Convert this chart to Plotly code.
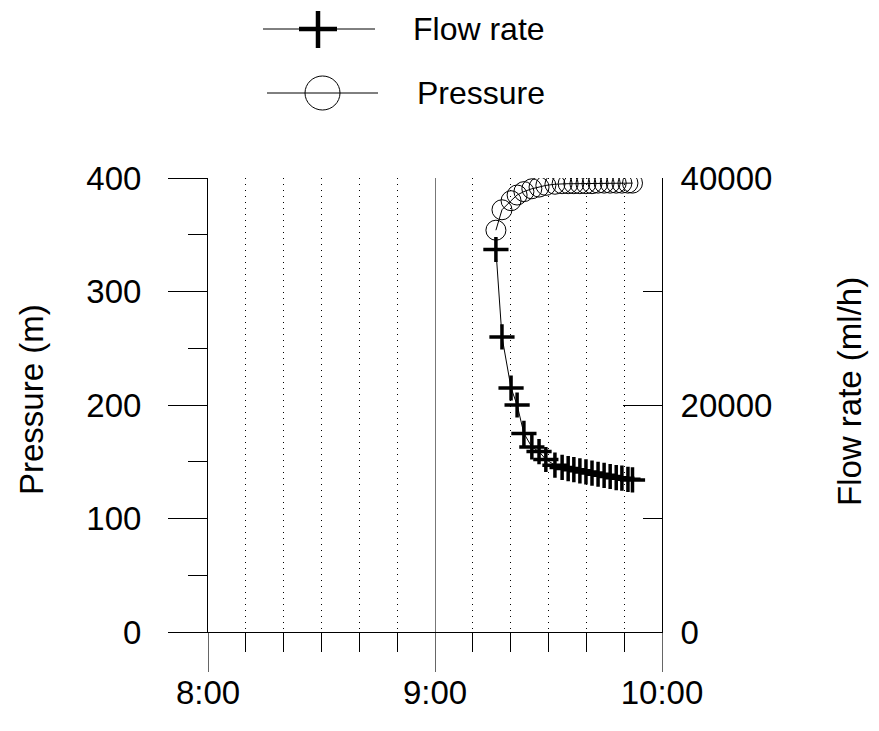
import plotly.graph_objects as go

# ---- data ----
times = [
    "2024-01-01 09:16:06", "2024-01-01 09:17:42", "2024-01-01 09:20:06", "2024-01-01 09:21:42",
    "2024-01-01 09:23:30", "2024-01-01 09:25:36", "2024-01-01 09:27:30", "2024-01-01 09:29:18",
    "2024-01-01 09:31:42", "2024-01-01 09:33:36", "2024-01-01 09:35:12", "2024-01-01 09:36:42",
    "2024-01-01 09:38:18", "2024-01-01 09:39:54", "2024-01-01 09:41:30", "2024-01-01 09:43:06",
    "2024-01-01 09:44:42", "2024-01-01 09:46:18", "2024-01-01 09:47:54", "2024-01-01 09:49:24",
    "2024-01-01 09:51:00", "2024-01-01 09:52:12",
]
pressure = [354, 372, 380, 385, 388, 390.5, 392, 393.5, 394.5, 395, 395, 395,
            395, 395, 395, 395.5, 395.5, 395.5, 395.5, 395.5, 395.5, 395.5]
flow = [33700, 26000, 21500, 20000, 17500, 16300, 15900, 15200, 14700, 14500, 14400, 14300,
        14200, 14100, 14000, 13900, 13800, 13700, 13600, 13550, 13450, 13400]
x_range = ["2024-01-01 08:00:00", "2024-01-01 10:00:00"]
pressure_range = [0, 400]
flow_range = [0, 40000]

FONT = "Liberation Sans, Arial, sans-serif"

# the page body has an 8px margin; work in page pixels and convert
OFF = 8
FIG_W, FIG_H = 879 - 2 * OFF, 731 - 2 * OFF
# plot area in page pixels
L, R, T, B = 208, 662, 178, 632
W, H = R - L, B - T


def px(x):
    return (x - L) / W


def py(y):
    return (B - y) / H


fig = go.Figure()
fig.add_trace(go.Scatter(
    x=times, y=pressure, mode="lines+markers", name="Pressure", yaxis="y",
    line=dict(color="black", width=1),
    marker=dict(symbol="circle-open", size=20, color="black", line=dict(width=1, color="black")),
))
fig.add_trace(go.Scatter(
    x=times, y=flow, mode="lines+markers", name="Flow rate", yaxis="y2",
    line=dict(color="black", width=1),
    marker=dict(symbol="cross-thin-open", size=18, color="black", line=dict(width=3.5, color="black")),
))

fig.update_layout(
    width=FIG_W, height=FIG_H,
    margin=dict(l=L - OFF, r=FIG_W - (R - OFF), t=T - OFF, b=FIG_H - (B - OFF), autoexpand=False),
    paper_bgcolor="white", plot_bgcolor="white",
    showlegend=False,
    font=dict(family=FONT, size=33, color="black"),
    xaxis=dict(
        type="date", range=x_range, dtick=3600000, tick0="2024-01-01 08:00:00",
        tickformat="%-H:%M", ticks="outside", ticklen=39, tickcolor="#666", tickwidth=1,
        showline=True, linecolor="black", linewidth=1,
        showgrid=True, gridcolor="#777", gridwidth=1, zeroline=False,
        tickfont=dict(size=33), ticklabelstandoff=-8,
        minor=dict(dtick=600000, tick0="2024-01-01 08:00:00", ticks="outside", ticklen=19,
                   tickcolor="black", tickwidth=1, showgrid=True, gridcolor="black",
                   gridwidth=1, griddash="1px,5px"),
    ),
    yaxis=dict(
        range=pressure_range, dtick=100, ticks="outside", ticklen=39, tickcolor="black",
        showline=True, linecolor="black", linewidth=1, showgrid=False, zeroline=False,
        tickfont=dict(size=33), ticklabelstandoff=20,
        minor=dict(dtick=50, ticks="outside", ticklen=19, tickcolor="black", showgrid=False),
    ),
    yaxis2=dict(
        range=flow_range, dtick=20000, overlaying="y", side="right", anchor="x",
        ticks="inside", ticklen=39, tickcolor="black", tickformat="d",
        showline=True, linecolor="black", linewidth=1, showgrid=False, zeroline=False,
        tickfont=dict(size=33), ticklabelstandoff=11,
        minor=dict(dtick=10000, ticks="inside", ticklen=19, tickcolor="black", showgrid=False),
    ),
)

# axis titles
fig.add_annotation(text="Pressure (m)", x=px(31), y=py(400), xref="paper", yref="paper",
                   textangle=-90, showarrow=False, font=dict(size=33), xanchor="center", yanchor="middle")
fig.add_annotation(text="Flow rate (ml/h)", x=px(849), y=py(392), xref="paper", yref="paper",
                   textangle=-90, showarrow=False, font=dict(size=33), xanchor="center", yanchor="middle")

# manual legend
shapes = [
    dict(type="line", x0=px(263), x1=px(375), y0=py(29), y1=py(29), line=dict(color="black", width=1)),
    dict(type="line", x0=px(299), x1=px(337), y0=py(29), y1=py(29), line=dict(color="black", width=4.5)),
    dict(type="line", x0=px(318), x1=px(318), y0=py(11), y1=py(48), line=dict(color="black", width=4.5)),
    dict(type="line", x0=px(267), x1=px(378), y0=py(93), y1=py(93), line=dict(color="black", width=1)),
    dict(type="circle", x0=px(305), x1=px(340), y0=py(76), y1=py(110), line=dict(color="black", width=1)),
]
for s in shapes:
    s.update(xref="paper", yref="paper")
    fig.add_shape(**s)
fig.add_annotation(text="Flow rate", x=px(411), y=py(29), xref="paper", yref="paper", showarrow=False,
                   xanchor="left", yanchor="middle", font=dict(size=32))
fig.add_annotation(text="Pressure", x=px(415), y=py(93), xref="paper", yref="paper", showarrow=False,
                   xanchor="left", yanchor="middle", font=dict(size=32))

fig.write_html("out.html")
